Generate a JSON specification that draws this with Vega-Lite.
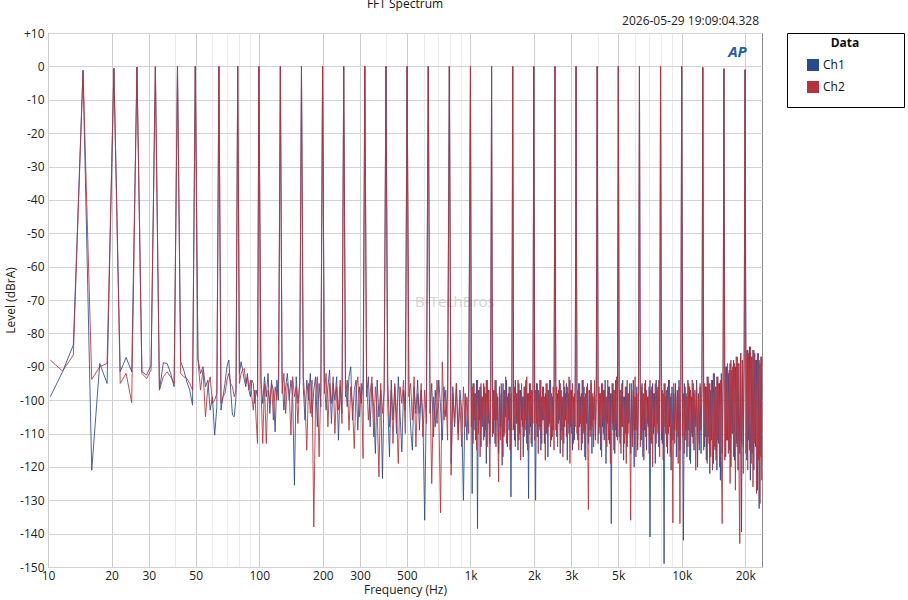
{
  "$schema": "https://vega.github.io/schema/vega-lite/v6.json",
  "width": 714,
  "height": 534,
  "autosize": {"type": "none"},
  "padding": {"left": 48, "top": 33, "right": 146, "bottom": 33},
  "background": "white",
  "title": {"text": "FFT Spectrum", "anchor": "middle", "offset": 4, "fontSize": 12, "fontWeight": "normal", "font": "Open Sans", "color": "#111111"},
  "config": {
    "font": "Open Sans",
    "view": {"stroke": "#8c8c8c", "strokeWidth": 1},
    "axis": {"domain": false, "ticks": false, "labelFontSize": 12, "titleFontSize": 12, "labelColor": "#222222", "titleColor": "#222222", "titleFontWeight": "normal", "labelFont": "Open Sans", "titleFont": "Open Sans"},
    "axisY": {"labelOverlap": false},
    "legend": {"labelFont": "Open Sans", "titleFont": "Open Sans"}
  },
  "datasets": {
    "spec": [
      {"f":10.25,"Ch1":-99,"Ch2":-88},{"f":11.72,"Ch1":-91.5,"Ch2":-91.3},{"f":13.18,"Ch1":-83.5,"Ch2":-86.5},{"f":14.65,"Ch1":-1.2,"Ch2":-1.2},
      {"f":16.11,"Ch1":-121,"Ch2":-93.8},{"f":17.58,"Ch1":-89,"Ch2":-90},{"f":19.04,"Ch1":-95,"Ch2":-89},{"f":20.51,"Ch1":-0.6,"Ch2":-0.6},
      {"f":21.97,"Ch1":-91.5,"Ch2":-95},{"f":23.44,"Ch1":-87.2,"Ch2":-92},{"f":24.9,"Ch1":-91.5,"Ch2":-100.8},{"f":26.37,"Ch1":-0.2,"Ch2":-0.2},
      {"f":27.83,"Ch1":-91.5,"Ch2":-92},{"f":29.3,"Ch1":-92.5,"Ch2":-93.5},{"f":30.76,"Ch1":-89.5,"Ch2":-91},{"f":32.23,"Ch1":-0.1,"Ch2":-0.1},
      {"f":33.69,"Ch1":-97,"Ch2":-97},{"f":35.16,"Ch1":-88.8,"Ch2":-93},{"f":36.62,"Ch1":-89,"Ch2":-91.5},{"f":38.09,"Ch1":-92,"Ch2":-93},{"f":39.55,"Ch1":-96,"Ch2":-95},{"f":41.02,"Ch1":0,"Ch2":0},
      {"f":42.48,"Ch1":-88.5,"Ch2":-92},{"f":43.95,"Ch1":-91,"Ch2":-93},{"f":45.41,"Ch1":-94.5,"Ch2":-93.5},{"f":46.88,"Ch1":-97,"Ch2":-95},{"f":48.34,"Ch1":-101.5,"Ch2":-97},{"f":49.8,"Ch1":0,"Ch2":0},
      {"f":51.27,"Ch1":-87.5,"Ch2":-88},{"f":52.73,"Ch1":-92,"Ch2":-97},{"f":54.2,"Ch1":-90,"Ch2":-91},{"f":55.66,"Ch1":-96,"Ch2":-105},{"f":57.13,"Ch1":-94,"Ch2":-96},
      {"f":58.59,"Ch1":-103,"Ch2":-93},{"f":60.06,"Ch1":-99,"Ch2":-101},{"f":61.52,"Ch1":-110.5,"Ch2":-100},{"f":62.99,"Ch1":-102,"Ch2":-98},{"f":64.45,"Ch1":0,"Ch2":0},
      {"f":65.92,"Ch1":-103,"Ch2":-101},{"f":67.38,"Ch1":-99,"Ch2":-99},{"f":68.85,"Ch1":-95,"Ch2":-98},{"f":70.31,"Ch1":-90,"Ch2":-94},{"f":71.78,"Ch1":-88,"Ch2":-92},
      {"f":73.24,"Ch1":-97,"Ch2":-95},{"f":74.71,"Ch1":-104.5,"Ch2":-96},{"f":76.17,"Ch1":-105,"Ch2":-99},{"f":77.64,"Ch1":-99,"Ch2":-97},{"f":79.1,"Ch1":0,"Ch2":0},
      {"f":80.57,"Ch1":-92,"Ch2":-95},{"f":82.03,"Ch1":-88.5,"Ch2":-92},{"f":83.5,"Ch1":-91,"Ch2":-91},{"f":84.96,"Ch1":-94,"Ch2":-90.5},{"f":86.43,"Ch1":-96,"Ch2":-95},
      {"f":87.89,"Ch1":-92,"Ch2":-93},{"f":89.36,"Ch1":-97,"Ch2":-97},{"f":90.82,"Ch1":-99,"Ch2":-94},{"f":92.29,"Ch1":-94,"Ch2":-99},{"f":93.75,"Ch1":-95,"Ch2":-103},
      {"f":95.21,"Ch1":-101,"Ch2":-97},{"f":96.68,"Ch1":-97,"Ch2":-106},{"f":98.14,"Ch1":-99,"Ch2":-113},{"f":99.61,"Ch1":0,"Ch2":0},
      {"f":101.9,"Ch1":-94,"Ch2":-96},{"f":103.9,"Ch1":-101,"Ch2":-113},{"f":105.9,"Ch1":-93,"Ch2":-95},{"f":108,"Ch1":-99,"Ch2":-113},{"f":110.1,"Ch1":-92,"Ch2":-97},
      {"f":112.2,"Ch1":-104,"Ch2":-101},{"f":114.4,"Ch1":-95,"Ch2":-94},{"f":116.6,"Ch1":-97,"Ch2":-106},{"f":118.9,"Ch1":-109.5,"Ch2":-96},{"f":121.2,"Ch1":-94,"Ch2":-100},{"f":123.5,"Ch1":-100,"Ch2":-93},
      {"f":125.9,"Ch1":0,"Ch2":0},
      {"f":128.3,"Ch1":-93,"Ch2":-98},{"f":130.8,"Ch1":-103,"Ch2":-92},{"f":133.4,"Ch1":-96,"Ch2":-104},{"f":135.9,"Ch1":-92,"Ch2":-95},{"f":138.6,"Ch1":-100,"Ch2":-97},
      {"f":141.3,"Ch1":-94,"Ch2":-110.5},{"f":144,"Ch1":-99,"Ch2":-93},{"f":146.8,"Ch1":-125.5,"Ch2":-99},{"f":149.6,"Ch1":-93,"Ch2":-96},{"f":152.5,"Ch1":-101,"Ch2":-107},{"f":155.5,"Ch1":-95,"Ch2":-94},
      {"f":158.5,"Ch1":0,"Ch2":0},
      {"f":161.6,"Ch1":-96,"Ch2":-93},{"f":164.7,"Ch1":-106,"Ch2":-100},{"f":167.9,"Ch1":-94,"Ch2":-115},{"f":171.2,"Ch1":-100,"Ch2":-95},{"f":174.5,"Ch1":-92,"Ch2":-104},
      {"f":177.8,"Ch1":-105,"Ch2":-94},{"f":181.3,"Ch1":-97,"Ch2":-138},{"f":184.8,"Ch1":-93,"Ch2":-99},{"f":188.4,"Ch1":-108,"Ch2":-93},{"f":192,"Ch1":-95,"Ch2":-117},{"f":195.7,"Ch1":-102,"Ch2":-96},
      {"f":199.5,"Ch1":0,"Ch2":0},
      {"f":203.4,"Ch1":-94,"Ch2":-98},{"f":207.3,"Ch1":-103,"Ch2":-92},{"f":211.4,"Ch1":-96,"Ch2":-108},{"f":215.4,"Ch1":-91,"Ch2":-95},{"f":219.6,"Ch1":-107,"Ch2":-101},
      {"f":223.9,"Ch1":-95,"Ch2":-93},{"f":228.2,"Ch1":-100,"Ch2":-110},{"f":232.6,"Ch1":-93,"Ch2":-96},{"f":237.1,"Ch1":-112,"Ch2":-103},{"f":241.7,"Ch1":-96,"Ch2":-94},{"f":246.4,"Ch1":-104,"Ch2":-107},
      {"f":251.2,"Ch1":0,"Ch2":0},
      {"f":256.1,"Ch1":-95,"Ch2":-99},{"f":261,"Ch1":-102,"Ch2":-94},{"f":266.1,"Ch1":-93,"Ch2":-109},{"f":271.2,"Ch1":-90,"Ch2":-96},{"f":276.5,"Ch1":-106,"Ch2":-102},
      {"f":281.8,"Ch1":-97,"Ch2":-114.5},{"f":287.3,"Ch1":-94,"Ch2":-97},{"f":292.9,"Ch1":-109,"Ch2":-93},{"f":298.5,"Ch1":-96,"Ch2":-105},{"f":304.3,"Ch1":-101,"Ch2":-95},{"f":310.2,"Ch1":-94,"Ch2":-117.5},
      {"f":316.2,"Ch1":0,"Ch2":0},
      {"f":322.3,"Ch1":-99,"Ch2":-94},{"f":328.6,"Ch1":-93,"Ch2":-106},{"f":335,"Ch1":-108,"Ch2":-98},{"f":341.5,"Ch1":-95,"Ch2":-93},{"f":348.1,"Ch1":-102,"Ch2":-111},
      {"f":354.8,"Ch1":-116,"Ch2":-96},{"f":361.7,"Ch1":-94,"Ch2":-103},{"f":368.7,"Ch1":-105,"Ch2":-123},{"f":375.8,"Ch1":-97,"Ch2":-95},{"f":383.1,"Ch1":-123.5,"Ch2":-104},{"f":390.5,"Ch1":-95,"Ch2":-97},
      {"f":398.1,"Ch1":0,"Ch2":0},
      {"f":405.8,"Ch1":-101,"Ch2":-94},{"f":413.7,"Ch1":-117,"Ch2":-108},{"f":421.7,"Ch1":-94,"Ch2":-97},{"f":429.9,"Ch1":-106,"Ch2":-113},{"f":438.2,"Ch1":-96,"Ch2":-95},
      {"f":446.7,"Ch1":-110,"Ch2":-104},{"f":455.4,"Ch1":-93,"Ch2":-119},{"f":464.2,"Ch1":-104,"Ch2":-96},{"f":473.2,"Ch1":-115.5,"Ch2":-101},{"f":482.3,"Ch1":-97,"Ch2":-94},{"f":491.7,"Ch1":-103,"Ch2":-110},
      {"f":501.2,"Ch1":0,"Ch2":0},
      {"f":510.9,"Ch1":-95,"Ch2":-99},{"f":520.8,"Ch1":-108,"Ch2":-95},{"f":530.9,"Ch1":-115,"Ch2":-106},{"f":541.2,"Ch1":-96,"Ch2":-93},{"f":551.7,"Ch1":-104,"Ch2":-114},
      {"f":562.3,"Ch1":-94,"Ch2":-98},{"f":573.3,"Ch1":-109,"Ch2":-104},{"f":584.4,"Ch1":-97,"Ch2":-95},{"f":595.7,"Ch1":-106,"Ch2":-111},{"f":607.2,"Ch1":-136,"Ch2":-97},{"f":619,"Ch1":-98,"Ch2":-107},
      {"f":631,"Ch1":0,"Ch2":0},
      {"f":643.2,"Ch1":-104,"Ch2":-95},{"f":655.6,"Ch1":-95,"Ch2":-125},{"f":668.4,"Ch1":-111,"Ch2":-99},{"f":681.3,"Ch1":-97,"Ch2":-108},{"f":694.5,"Ch1":-107,"Ch2":-94},
      {"f":708,"Ch1":-94,"Ch2":-103},{"f":721.7,"Ch1":-102,"Ch2":-133.8},{"f":735.7,"Ch1":-112,"Ch2":-88.5},{"f":749.9,"Ch1":-96,"Ch2":-106},{"f":764.5,"Ch1":-105,"Ch2":-97},{"f":779.3,"Ch1":-98,"Ch2":-112},
      {"f":794.3,"Ch1":0,"Ch2":0},
      {"f":809.7,"Ch1":-119,"Ch2":-122.5},{"f":825.4,"Ch1":-96,"Ch2":-98},{"f":841.4,"Ch1":-108,"Ch2":-107},{"f":857.7,"Ch1":-95,"Ch2":-95},{"f":874.3,"Ch1":-110,"Ch2":-112},
      {"f":891.2,"Ch1":-97,"Ch2":-100},{"f":908.5,"Ch1":-103,"Ch2":-114},{"f":926.1,"Ch1":-130,"Ch2":-96},{"f":944,"Ch1":-98,"Ch2":-108},{"f":962.3,"Ch1":-112,"Ch2":-99},{"f":981,"Ch1":-96,"Ch2":-110},
      {"f":1000,"Ch1":0,"Ch2":0},
      {"f":1010,"Ch1":-97,"Ch2":-108},{"f":1019,"Ch1":-128,"Ch2":-96},{"f":1029,"Ch1":-95,"Ch2":-113},{"f":1039,"Ch1":-109,"Ch2":-95},{"f":1049,"Ch1":-98,"Ch2":-106},{"f":1059,"Ch1":-112,"Ch2":-98},
      {"f":1070,"Ch1":-94,"Ch2":-115},{"f":1080,"Ch1":-138.5,"Ch2":-94},{"f":1090,"Ch1":-97,"Ch2":-110},{"f":1101,"Ch1":-106,"Ch2":-97},{"f":1111,"Ch1":-96,"Ch2":-117},{"f":1122,"Ch1":-114,"Ch2":-95},
      {"f":1133,"Ch1":-99,"Ch2":-105},{"f":1144,"Ch1":-108,"Ch2":-99},{"f":1155,"Ch1":-95,"Ch2":-112},{"f":1166,"Ch1":-111,"Ch2":-96},{"f":1177,"Ch1":-98,"Ch2":-109},{"f":1189,"Ch1":-119,"Ch2":-94},
      {"f":1200,"Ch1":-94,"Ch2":-114},{"f":1212,"Ch1":-107,"Ch2":-97},{"f":1223,"Ch1":-97,"Ch2":-107},{"f":1235,"Ch1":-113,"Ch2":-123},{"f":1247,"Ch1":-96,"Ch2":-98},
      {"f":1259,"Ch1":0,"Ch2":0},
      {"f":1271,"Ch1":-95,"Ch2":-111},{"f":1283,"Ch1":-110,"Ch2":-97},{"f":1296,"Ch1":-97,"Ch2":-106},{"f":1308,"Ch1":-113,"Ch2":-94},{"f":1321,"Ch1":-94,"Ch2":-114},{"f":1334,"Ch1":-106,"Ch2":-98},
      {"f":1346,"Ch1":-99,"Ch2":-108},{"f":1359,"Ch1":-116,"Ch2":-124.5},{"f":1372,"Ch1":-96,"Ch2":-96},{"f":1386,"Ch1":-108,"Ch2":-112},{"f":1399,"Ch1":-98,"Ch2":-95},{"f":1413,"Ch1":-119.5,"Ch2":-107},
      {"f":1426,"Ch1":-95,"Ch2":-117},{"f":1440,"Ch1":-111,"Ch2":-97},{"f":1454,"Ch1":-97,"Ch2":-110},{"f":1468,"Ch1":-105,"Ch2":-93},{"f":1482,"Ch1":-94,"Ch2":-113},{"f":1496,"Ch1":-114,"Ch2":-99},
      {"f":1511,"Ch1":-98,"Ch2":-106},{"f":1525,"Ch1":-109,"Ch2":-96},{"f":1540,"Ch1":-96,"Ch2":-115},{"f":1555,"Ch1":-129,"Ch2":-98},{"f":1570,"Ch1":-99,"Ch2":-109},
      {"f":1585,"Ch1":0,"Ch2":0},
      {"f":1600,"Ch1":-96,"Ch2":-109},{"f":1616,"Ch1":-112,"Ch2":-96},{"f":1631,"Ch1":-94,"Ch2":-114},{"f":1647,"Ch1":-107,"Ch2":-98},{"f":1663,"Ch1":-98,"Ch2":-107},{"f":1679,"Ch1":-115,"Ch2":-94},
      {"f":1695,"Ch1":-95,"Ch2":-112},{"f":1711,"Ch1":-110,"Ch2":-97},{"f":1728,"Ch1":-97,"Ch2":-118},{"f":1745,"Ch1":-106,"Ch2":-95},{"f":1761,"Ch1":-99,"Ch2":-108},{"f":1778,"Ch1":-117,"Ch2":-99},
      {"f":1796,"Ch1":-96,"Ch2":-111},{"f":1813,"Ch1":-109,"Ch2":-96},{"f":1830,"Ch1":-94,"Ch2":-106},{"f":1848,"Ch1":-113,"Ch2":-93},{"f":1866,"Ch1":-98,"Ch2":-115},{"f":1884,"Ch1":-129.5,"Ch2":-98},
      {"f":1902,"Ch1":-95,"Ch2":-110},{"f":1920,"Ch1":-108,"Ch2":-95},{"f":1939,"Ch1":-97,"Ch2":-113},{"f":1957,"Ch1":-114,"Ch2":-97},{"f":1976,"Ch1":-99,"Ch2":-107},
      {"f":1995,"Ch1":0,"Ch2":0},
      {"f":2015,"Ch1":-98,"Ch2":-112},{"f":2034,"Ch1":-130,"Ch2":-97},{"f":2054,"Ch1":-95,"Ch2":-107},{"f":2073,"Ch1":-111,"Ch2":-95},{"f":2094,"Ch1":-97,"Ch2":-116},{"f":2114,"Ch1":-108,"Ch2":-98},
      {"f":2134,"Ch1":-94,"Ch2":-109},{"f":2154,"Ch1":-115,"Ch2":-94},{"f":2175,"Ch1":-99,"Ch2":-113},{"f":2196,"Ch1":-106,"Ch2":-96},{"f":2217,"Ch1":-96,"Ch2":-106},{"f":2239,"Ch1":-113,"Ch2":-99},
      {"f":2261,"Ch1":-98,"Ch2":-118},{"f":2282,"Ch1":-110,"Ch2":-95},{"f":2304,"Ch1":-95,"Ch2":-110},{"f":2326,"Ch1":-117,"Ch2":-97},{"f":2349,"Ch1":-97,"Ch2":-108},{"f":2371,"Ch1":-107,"Ch2":-94},
      {"f":2394,"Ch1":-94,"Ch2":-114},{"f":2417,"Ch1":-112,"Ch2":-98},{"f":2441,"Ch1":-99,"Ch2":-111},{"f":2464,"Ch1":-109,"Ch2":-96},{"f":2488,"Ch1":-96,"Ch2":-115},
      {"f":2512,"Ch1":0,"Ch2":0},
      {"f":2536,"Ch1":-95,"Ch2":-109},{"f":2561,"Ch1":-111,"Ch2":-96},{"f":2585,"Ch1":-98,"Ch2":-114},{"f":2610,"Ch1":-107,"Ch2":-97},{"f":2635,"Ch1":-94,"Ch2":-106},{"f":2661,"Ch1":-116,"Ch2":-95},
      {"f":2686,"Ch1":-97,"Ch2":-112},{"f":2712,"Ch1":-109,"Ch2":-99},{"f":2739,"Ch1":-99,"Ch2":-117},{"f":2765,"Ch1":-113,"Ch2":-94},{"f":2792,"Ch1":-96,"Ch2":-108},{"f":2818,"Ch1":-106,"Ch2":-98},
      {"f":2846,"Ch1":-95,"Ch2":-111},{"f":2873,"Ch1":-118,"Ch2":-96},{"f":2901,"Ch1":-98,"Ch2":-107},{"f":2929,"Ch1":-110,"Ch2":-93},{"f":2957,"Ch1":-94,"Ch2":-119},{"f":2985,"Ch1":-108,"Ch2":-97},
      {"f":3014,"Ch1":-97,"Ch2":-110},{"f":3043,"Ch1":-115,"Ch2":-95},{"f":3073,"Ch1":-99,"Ch2":-113},{"f":3102,"Ch1":-112,"Ch2":-98},{"f":3132,"Ch1":-96,"Ch2":-108},
      {"f":3162,"Ch1":0,"Ch2":0},
      {"f":3193,"Ch1":-97,"Ch2":-110},{"f":3223,"Ch1":-112,"Ch2":-97},{"f":3255,"Ch1":-95,"Ch2":-115},{"f":3286,"Ch1":-108,"Ch2":-95},{"f":3318,"Ch1":-99,"Ch2":-107},{"f":3350,"Ch1":-115,"Ch2":-98},
      {"f":3382,"Ch1":-94,"Ch2":-113},{"f":3415,"Ch1":-110,"Ch2":-94},{"f":3448,"Ch1":-96,"Ch2":-109},{"f":3481,"Ch1":-117,"Ch2":-99},{"f":3514,"Ch1":-98,"Ch2":-118},{"f":3548,"Ch1":-107,"Ch2":-96},
      {"f":3583,"Ch1":-95,"Ch2":-106},{"f":3617,"Ch1":-113,"Ch2":-132.8},{"f":3652,"Ch1":-97,"Ch2":-97},{"f":3687,"Ch1":-109,"Ch2":-111},{"f":3723,"Ch1":-94,"Ch2":-95},{"f":3758,"Ch1":-116,"Ch2":-108},
      {"f":3795,"Ch1":-99,"Ch2":-98},{"f":3831,"Ch1":-106,"Ch2":-114},{"f":3868,"Ch1":-96,"Ch2":-94},{"f":3905,"Ch1":-111,"Ch2":-112},{"f":3943,"Ch1":-98,"Ch2":-97},
      {"f":3981,"Ch1":0,"Ch2":0},
      {"f":4019,"Ch1":-96,"Ch2":-113},{"f":4058,"Ch1":-110,"Ch2":-96},{"f":4097,"Ch1":-98,"Ch2":-108},{"f":4137,"Ch1":-115,"Ch2":-98},{"f":4177,"Ch1":-95,"Ch2":-117},{"f":4217,"Ch1":-108,"Ch2":-95},
      {"f":4258,"Ch1":-97,"Ch2":-110},{"f":4299,"Ch1":-112,"Ch2":-97},{"f":4340,"Ch1":-94,"Ch2":-106},{"f":4382,"Ch1":-119,"Ch2":-99},{"f":4424,"Ch1":-99,"Ch2":-114},{"f":4467,"Ch1":-107,"Ch2":-94},
      {"f":4510,"Ch1":-96,"Ch2":-112},{"f":4554,"Ch1":-113,"Ch2":-96},{"f":4597,"Ch1":-98,"Ch2":-119},{"f":4642,"Ch1":-137,"Ch2":-98},{"f":4687,"Ch1":-95,"Ch2":-107},{"f":4732,"Ch1":-109,"Ch2":-95},
      {"f":4777,"Ch1":-97,"Ch2":-115},{"f":4823,"Ch1":-116,"Ch2":-97},{"f":4870,"Ch1":-94,"Ch2":-109},{"f":4917,"Ch1":-111,"Ch2":-93},{"f":4964,"Ch1":-99,"Ch2":-112},
      {"f":5012,"Ch1":0,"Ch2":0},
      {"f":5060,"Ch1":-95,"Ch2":-111},{"f":5109,"Ch1":-113,"Ch2":-97},{"f":5158,"Ch1":-97,"Ch2":-116},{"f":5208,"Ch1":-108,"Ch2":-95},{"f":5258,"Ch1":-94,"Ch2":-108},{"f":5309,"Ch1":-118,"Ch2":-99},
      {"f":5360,"Ch1":-99,"Ch2":-113},{"f":5412,"Ch1":-110,"Ch2":-96},{"f":5464,"Ch1":-96,"Ch2":-119},{"f":5517,"Ch1":-114,"Ch2":-94},{"f":5570,"Ch1":-98,"Ch2":-110},{"f":5623,"Ch1":-107,"Ch2":-98},
      {"f":5678,"Ch1":-95,"Ch2":-107},{"f":5733,"Ch1":-116,"Ch2":-136},{"f":5788,"Ch1":-97,"Ch2":-95},{"f":5844,"Ch1":-111,"Ch2":-114},{"f":5900,"Ch1":-94,"Ch2":-97},{"f":5957,"Ch1":-120,"Ch2":-109},
      {"f":6014,"Ch1":-99,"Ch2":-93},{"f":6072,"Ch1":-109,"Ch2":-117},{"f":6131,"Ch1":-96,"Ch2":-98},{"f":6190,"Ch1":-115,"Ch2":-112},{"f":6249,"Ch1":-98,"Ch2":-96},
      {"f":6310,"Ch1":0,"Ch2":0},
      {"f":6370,"Ch1":-97,"Ch2":-114},{"f":6432,"Ch1":-112,"Ch2":-96},{"f":6494,"Ch1":-95,"Ch2":-109},{"f":6556,"Ch1":-117,"Ch2":-98},{"f":6620,"Ch1":-98,"Ch2":-118},{"f":6684,"Ch1":-109,"Ch2":-95},
      {"f":6748,"Ch1":-94,"Ch2":-111},{"f":6813,"Ch1":-115,"Ch2":-97},{"f":6879,"Ch1":-99,"Ch2":-107},{"f":6945,"Ch1":-108,"Ch2":-99},{"f":7012,"Ch1":-96,"Ch2":-116},{"f":7080,"Ch1":-141,"Ch2":-94},
      {"f":7148,"Ch1":-97,"Ch2":-112},{"f":7217,"Ch1":-113,"Ch2":-96},{"f":7286,"Ch1":-95,"Ch2":-120},{"f":7357,"Ch1":-110,"Ch2":-98},{"f":7428,"Ch1":-98,"Ch2":-108},{"f":7499,"Ch1":-119,"Ch2":-95},
      {"f":7572,"Ch1":-94,"Ch2":-113},{"f":7645,"Ch1":-107,"Ch2":-97},{"f":7718,"Ch1":-96,"Ch2":-110},{"f":7793,"Ch1":-114,"Ch2":-94},{"f":7867,"Ch1":-99,"Ch2":-117},
      {"f":7943,"Ch1":0,"Ch2":0},
      {"f":8020,"Ch1":-96,"Ch2":-112},{"f":8097,"Ch1":-113,"Ch2":-97},{"f":8175,"Ch1":-98,"Ch2":-118},{"f":8254,"Ch1":-149,"Ch2":-95},{"f":8334,"Ch1":-95,"Ch2":-108},{"f":8414,"Ch1":-110,"Ch2":-99},
      {"f":8495,"Ch1":-97,"Ch2":-114},{"f":8577,"Ch1":-116,"Ch2":-96},{"f":8660,"Ch1":-94,"Ch2":-110},{"f":8743,"Ch1":-108,"Ch2":-94},{"f":8827,"Ch1":-99,"Ch2":-117},{"f":8912,"Ch1":-121,"Ch2":-98},
      {"f":8999,"Ch1":-96,"Ch2":-107},{"f":9085,"Ch1":-112,"Ch2":-136.8},{"f":9173,"Ch1":-98,"Ch2":-95},{"f":9261,"Ch1":-109,"Ch2":-113},{"f":9351,"Ch1":-95,"Ch2":-97},{"f":9440,"Ch1":-117,"Ch2":-109},
      {"f":9532,"Ch1":-97,"Ch2":-99},{"f":9623,"Ch1":-111,"Ch2":-119},{"f":9716,"Ch1":-94,"Ch2":-96},{"f":9810,"Ch1":-115,"Ch2":-137},{"f":9905,"Ch1":-99,"Ch2":-98},
      {"f":10000,"Ch1":0,"Ch2":0},
      {"f":10100,"Ch1":-97,"Ch2":-111},{"f":10190,"Ch1":-142,"Ch2":-98},{"f":10290,"Ch1":-95,"Ch2":-116},{"f":10390,"Ch1":-112,"Ch2":-96},{"f":10490,"Ch1":-98,"Ch2":-109},{"f":10590,"Ch1":-117,"Ch2":-99},
      {"f":10700,"Ch1":-94,"Ch2":-114},{"f":10800,"Ch1":-109,"Ch2":-95},{"f":10900,"Ch1":-96,"Ch2":-118},{"f":11010,"Ch1":-119,"Ch2":-97},{"f":11110,"Ch1":-99,"Ch2":-110},{"f":11220,"Ch1":-111,"Ch2":-94},
      {"f":11330,"Ch1":-95,"Ch2":-113},{"f":11440,"Ch1":-115,"Ch2":-98},{"f":11550,"Ch1":-97,"Ch2":-107},{"f":11660,"Ch1":-108,"Ch2":-121},{"f":11770,"Ch1":-94,"Ch2":-96},{"f":11890,"Ch1":-120,"Ch2":-112},
      {"f":12000,"Ch1":-98,"Ch2":-99},{"f":12120,"Ch1":-113,"Ch2":-115},{"f":12230,"Ch1":-96,"Ch2":-95},{"f":12350,"Ch1":-116,"Ch2":-109},{"f":12470,"Ch1":-95,"Ch2":-97},
      {"f":12590,"Ch1":-0.3,"Ch2":-0.3},
      {"f":12710,"Ch1":-94,"Ch2":-115},{"f":12830,"Ch1":-114,"Ch2":-95},{"f":12960,"Ch1":-96,"Ch2":-111},{"f":13080,"Ch1":-118,"Ch2":-96},{"f":13210,"Ch1":-93,"Ch2":-119},{"f":13340,"Ch1":-111,"Ch2":-93},
      {"f":13460,"Ch1":-95,"Ch2":-113},{"f":13590,"Ch1":-122,"Ch2":-95},{"f":13720,"Ch1":-97,"Ch2":-117},{"f":13860,"Ch1":-112,"Ch2":-94},{"f":13990,"Ch1":-94,"Ch2":-121},{"f":14130,"Ch1":-119,"Ch2":-92},
      {"f":14260,"Ch1":-92,"Ch2":-114},{"f":14400,"Ch1":-115,"Ch2":-96},{"f":14540,"Ch1":-96,"Ch2":-118},{"f":14680,"Ch1":-121,"Ch2":-93},{"f":14820,"Ch1":-93,"Ch2":-112},{"f":14960,"Ch1":-113,"Ch2":-95},
      {"f":15110,"Ch1":-95,"Ch2":-120},{"f":15250,"Ch1":-124,"Ch2":-94},{"f":15400,"Ch1":-92,"Ch2":-116},{"f":15550,"Ch1":-116,"Ch2":-137},{"f":15700,"Ch1":-94,"Ch2":-93},
      {"f":15850,"Ch1":-0.7,"Ch2":-0.7},
      {"f":16000,"Ch1":-91,"Ch2":-118},{"f":16160,"Ch1":-117,"Ch2":-90},{"f":16310,"Ch1":-90,"Ch2":-112},{"f":16470,"Ch1":-112,"Ch2":-89},{"f":16630,"Ch1":-92,"Ch2":-116},{"f":16790,"Ch1":-115,"Ch2":-91},
      {"f":16950,"Ch1":-89,"Ch2":-125},{"f":17110,"Ch1":-120,"Ch2":-88},{"f":17280,"Ch1":-91,"Ch2":-110},{"f":17450,"Ch1":-110,"Ch2":-90},{"f":17610,"Ch1":-88,"Ch2":-117},{"f":17780,"Ch1":-118,"Ch2":-89},
      {"f":17960,"Ch1":-90,"Ch2":-127},{"f":18130,"Ch1":-113,"Ch2":-87},{"f":18300,"Ch1":-87,"Ch2":-114},{"f":18480,"Ch1":-121,"Ch2":-89},{"f":18660,"Ch1":-89,"Ch2":-120},{"f":18840,"Ch1":-116,"Ch2":-143},
      {"f":19020,"Ch1":-86,"Ch2":-86},{"f":19200,"Ch1":-139.5,"Ch2":-113},{"f":19390,"Ch1":-88,"Ch2":-88},{"f":19570,"Ch1":-114,"Ch2":-122},{"f":19760,"Ch1":-87,"Ch2":-86},
      {"f":19950,"Ch1":-1,"Ch2":-1},
      {"f":20150,"Ch1":-86,"Ch2":-116},{"f":20340,"Ch1":-118,"Ch2":-85},{"f":20540,"Ch1":-85,"Ch2":-121},{"f":20730,"Ch1":-112,"Ch2":-86},{"f":20930,"Ch1":-84,"Ch2":-115},{"f":21140,"Ch1":-124,"Ch2":-84},
      {"f":21340,"Ch1":-87,"Ch2":-119},{"f":21540,"Ch1":-116,"Ch2":-87},{"f":21750,"Ch1":-85,"Ch2":-126},{"f":21960,"Ch1":-121,"Ch2":-85},{"f":22170,"Ch1":-86,"Ch2":-113},{"f":22390,"Ch1":-114,"Ch2":-88},
      {"f":22610,"Ch1":-88,"Ch2":-128},{"f":22820,"Ch1":-127,"Ch2":-86},{"f":23040,"Ch1":-86,"Ch2":-118},{"f":23260,"Ch1":-132.5,"Ch2":-88},{"f":23490,"Ch1":-89,"Ch2":-131},{"f":23710,"Ch1":-117,"Ch2":-87},
      {"f":23940,"Ch1":-87,"Ch2":-124},{"f":24170,"Ch1":-120,"Ch2":-90}
    ]
  },
  "encoding": {
    "x": {
      "field": "f", "type": "quantitative",
      "scale": {"type": "log", "domain": [10, 24000], "nice": false},
      "axis": {
        "title": "Frequency (Hz)",
        "values": [10,20,30,40,50,60,70,80,90,100,200,300,400,500,600,700,800,900,1000,2000,3000,4000,5000,6000,7000,8000,9000,10000,20000],
        "labelExpr": "indexof([10,20,30,50,100,200,300,500,1000,2000,3000,5000,10000,20000], datum.value) >= 0 ? (datum.value >= 1000 ? (datum.value / 1000) + 'k' : '' + datum.value) : ''",
        "gridColor": {"condition": {"test": "indexof([10,20,30,50,100,200,300,500,1000,2000,3000,5000,10000,20000], datum.value) >= 0", "value": "#cdcdcd"}, "value": "#ebebeb"},
        "labelPadding": 3,
        "titlePadding": 3,
        "labelOverlap": false,
        "labelFlush": false
      }
    },
    "y": {
      "field": "Level", "type": "quantitative",
      "scale": {"domain": [-150, 10], "nice": false, "zero": false},
      "axis": {
        "title": "Level (dBrA)",
        "values": [-150,-140,-130,-120,-110,-100,-90,-80,-70,-60,-50,-40,-30,-20,-10,0,10],
        "labelExpr": "datum.value > 0 ? '+' + datum.value : '' + datum.value",
        "gridColor": "#d2d2d2",
        "labelPadding": 4,
        "titlePadding": 2,
        "labelOverlap": false
      }
    }
  },
  "layer": [
    {
      "data": {"values": [{"f": 844, "Level": -70.6, "label": "B-TechBros"}]},
      "mark": {"type": "text", "fontSize": 15, "color": "#c9c9c9", "opacity": 0.8, "align": "center", "baseline": "middle"},
      "encoding": {"text": {"field": "label"}}
    },
    {
      "data": {"name": "spec"},
      "transform": [{"fold": ["Ch1", "Ch2"], "as": ["Channel", "Level"]}],
      "mark": {"type": "line", "strokeWidth": 1, "strokeOpacity": 0.85, "clip": true},
      "encoding": {
        "color": {
          "field": "Channel", "type": "nominal",
          "scale": {"domain": ["Ch1", "Ch2"], "range": ["#2a4a8e", "#b8303b"]},
          "legend": {
            "title": "Data",
            "orient": "right",
            "offset": 25,
            "titleAnchor": "middle",
            "titleFontWeight": "bold",
            "titleFontSize": 12,
            "titleColor": "#111111",
            "titlePadding": 9,
            "labelFontSize": 12,
            "labelColor": "#111111",
            "labelOffset": 4,
            "symbolType": "square",
            "symbolSize": 36,
            "symbolStrokeWidth": 6,
            "symbolOpacity": 1,
            "symbolOffset": 15,
            "rowPadding": -8,
            "padding": 5,
            "strokeColor": "#000000",
            "fillColor": "#ffffff",
            "labelExpr": "datum.label + '\u2800\u2800\u2800\u2800\u2800\u2800'"
          }
        }
      }
    },
    {
      "data": {"values": [{"f": 24000, "Level": 10, "label": "2026-05-29 19:09:04.328"}]},
      "mark": {"type": "text", "fontSize": 12, "color": "#222222", "align": "right", "baseline": "alphabetic", "dx": -3, "dy": -8},
      "encoding": {"text": {"field": "label"}}
    },
    {
      "data": {"values": [{"f": 18370, "Level": 4.2, "label": "AP"}]},
      "mark": {"type": "text", "fontSize": 15, "fontStyle": "italic", "fontWeight": "bold", "color": "#1f5fa8", "align": "center", "baseline": "middle"},
      "encoding": {"text": {"field": "label"}}
    }
  ]
}
